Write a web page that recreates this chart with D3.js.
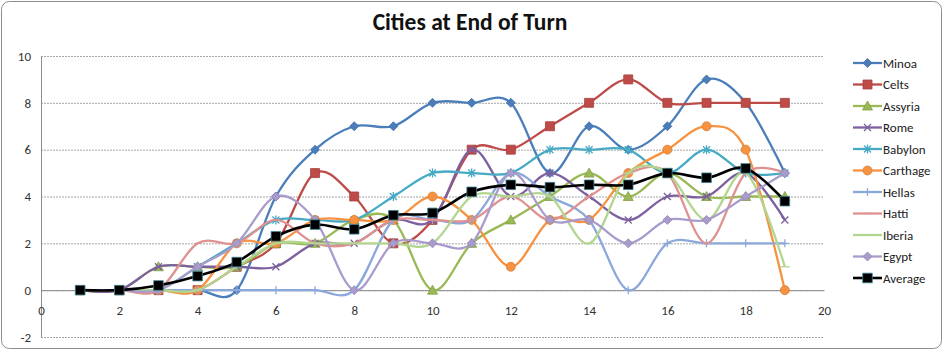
<!DOCTYPE html>
<html>
<head>
<meta charset="utf-8">
<script src="https://cdn.jsdelivr.net/npm/d3@7"></script>
<style>
  body { margin: 0; background: #fff; }
  svg { display: block; }
  .tick text { font-family: Carlito, Calibri, "Liberation Sans", Arial, sans-serif; font-size: 13px; fill: #333; }
  .grid line { stroke: #a6a6a6; stroke-dasharray: 2,1; }
  .legend text { font-family: Carlito, Calibri, "Liberation Sans", Arial, sans-serif; font-size: 13px; fill: #222; }
</style>
</head>
<body>
<script>
// turns on the x axis
var turns = [1, 2, 3, 4, 5, 6, 7, 8, 9, 10, 11, 12, 13, 14, 15, 16, 17, 18, 19];

// cities per civ at end of each turn
var minoa    = [0, 0, 0, 0, 0, 4, 6, 7, 7, 8, 8, 8, 5, 7, 6, 7, 9, 8, 5];
var celts    = [0, 0, 0, 0, 1, 2, 5, 4, 2, 3, 6, 6, 7, 8, 9, 8, 8, 8, 8];
var assyria  = [0, 0, 1, 1, 1, 2, 2, 3, 3, 0, 2, 3, 4, 5, 4, 5, 4, 4, 4];
var rome     = [0, 0, 1, 1, 1, 1, 2, 2, 3, 3, 6, 4, 5, 4, 3, 4, 4, 5, 3];
var babylon  = [0, 0, 0, 1, 2, 3, 3, 3, 4, 5, 5, 5, 6, 6, 6, 5, 6, 5, 5];
var carthage = [0, 0, 0, 0, 2, 2, 3, 3, 3, 4, 3, 1, 3, 3, 5, 6, 7, 6, 0];
var hellas   = [0, 0, 0, 0, 0, 0, 0, 0, 3, 3, 3, 5, 4, 3, 0, 2, 2, 2, 2];
var hatti    = [0, 0, 0, 2, 2, 3, 2, 2, 3, 3, 3, 4, 3, 4, 5, 5, 2, 5, 5];
var iberia   = [0, 0, 0, 0, 1, 2, 2, 2, 2, 2, 4, 4, 4, 2, 5, 5, 3, 5, 1];
var egypt    = [0, 0, 0, 1, 2, 4, 3, 0, 2, 2, 2, 5, 3, 3, 2, 3, 3, 4, 5];
var average  = [0, 0, 0.2, 0.6, 1.2, 2.3, 2.8, 2.6, 3.2, 3.3, 4.2, 4.5, 4.4, 4.5, 4.5, 5.0, 4.8, 5.2, 3.8];

var seriesNames = ["Minoa", "Celts", "Assyria", "Rome", "Babylon", "Carthage", "Hellas", "Hatti", "Iberia", "Egypt", "Average"];
var seriesValues = [minoa, celts, assyria, rome, babylon, carthage, hellas, hatti, iberia, egypt, average];

var xTicks = [0, 2, 4, 6, 8, 10, 12, 14, 16, 18, 20];
var yTicks = [-2, 0, 2, 4, 6, 8, 10];

var title = "Cities at End of Turn";

// look of each series
var colors  = ["#4a7ebb", "#be4b48", "#98b954", "#7d60a0", "#46aac5", "#f69240", "#8ba8dc", "#df9190", "#b2d68f", "#a99ccd", "#000000"];
var markers = ["diamond", "square", "triangle", "x", "star", "circle", "plus", "dash", "longdash", "diamond", "bigsquare"];

var width = 944, height = 352;

var svg = d3.select("body").append("svg")
    .attr("width", width)
    .attr("height", height);

// chart border
svg.append("rect")
    .attr("x", 1.5).attr("y", 1.5)
    .attr("width", width - 4).attr("height", height - 5)
    .attr("rx", 8)
    .attr("fill", "#fff")
    .attr("stroke", "#8c8c8c");

svg.append("text")
    .attr("x", 470)
    .attr("y", 30)
    .attr("text-anchor", "middle")
    .style("font-family", "Carlito, Calibri, Lato, 'Liberation Sans', sans-serif")
    .style("font-weight", "bold")
    .style("font-size", "23.5px")
    .style("fill", "#111")
    .text(title);

var x = d3.scaleLinear().domain([0, 20]).range([41, 824]);
var y = d3.scaleLinear().domain([-2, 10]).range([337, 56]);

// plain hyphen for negatives, like the original
var fmt = function(d){ return String(d); };

// horizontal gridlines
svg.append("g")
    .attr("class", "grid")
    .attr("transform", "translate(" + x(0) + ",0)")
    .call(d3.axisLeft(y).tickValues(yTicks).tickSize(-(x(20) - x(0))).tickFormat(""))
    .call(function(g){ g.select(".domain").remove(); });

// y axis
var yAxis = svg.append("g")
    .attr("transform", "translate(" + x(0) + ",0)")
    .call(d3.axisLeft(y).tickValues(yTicks).tickFormat(fmt).tickSize(0).tickPadding(10));
yAxis.select(".domain").attr("stroke", "#8c8c8c");

// x axis sits on y = 0
var xAxis = svg.append("g")
    .attr("transform", "translate(0," + y(0) + ")")
    .call(d3.axisBottom(x).tickValues(xTicks).tickFormat(fmt).tickSize(0).tickPadding(16));
xAxis.select(".domain").attr("stroke", "#8c8c8c");

var line = d3.line()
    .x(function(d, i){ return x(turns[i]); })
    .y(function(d){ return y(d); })
    .curve(d3.curveCatmullRom.alpha(0));

function markerPath(type){
    switch (type) {
        case "diamond":   return "M0,-4.5L4.5,0L0,4.5L-4.5,0Z";
        case "square":    return "M-4.5,-4.5H4.5V4.5H-4.5Z";
        case "bigsquare": return "M-4.8,-4.8H4.8V4.8H-4.8Z";
        case "triangle":  return "M0,-5L5,4L-5,4Z";
        case "x":         return "M-3.5,-3.5L3.5,3.5M-3.5,3.5L3.5,-3.5";
        case "star":      return "M-3.5,-3.5L3.5,3.5M-3.5,3.5L3.5,-3.5M0,-4.5V4.5";
        case "circle":    return "M4.5,0A4.5,4.5 0 1,1 -4.5,0A4.5,4.5 0 1,1 4.5,0Z";
        case "plus":      return "M0,-4V4M-4,0H4";
        case "dash":      return "M-3,0H3";
        case "longdash":  return "M-5,0H5";
    }
}
var strokeOnly = { x: true, star: true, plus: true, dash: true, longdash: true };

function drawMarker(g, type, color, cx, cy){
    var p = g.append("path")
        .attr("d", markerPath(type))
        .attr("transform", "translate(" + cx + "," + cy + ")");
    if (strokeOnly[type]) {
        p.attr("fill", "none").attr("stroke", color).attr("stroke-width", 1.3);
    } else if (type == "bigsquare") {
        p.attr("fill", "#000").attr("stroke", "#3d8494").attr("stroke-width", 0.8);
    } else {
        p.attr("fill", color).attr("stroke", d3.color(color).darker(0.4)).attr("stroke-width", 0.8);
    }
}

// series, drawn in order so Average ends on top
seriesValues.forEach(function(vals, s){
    var g = svg.append("g").attr("class", "series");
    g.append("path")
        .datum(vals)
        .attr("fill", "none")
        .attr("stroke", colors[s])
        .attr("stroke-width", s == 10 ? 2.6 : 2.3)
        .attr("d", line);
    vals.forEach(function(v, i){
        drawMarker(g, markers[s], colors[s], x(turns[i]), y(v));
    });
});

// legend
var legend = svg.append("g").attr("class", "legend");
seriesNames.forEach(function(name, s){
    var ly = 63 + s * 21.5;
    var item = legend.append("g");
    item.append("line")
        .attr("x1", 853).attr("x2", 882)
        .attr("y1", ly).attr("y2", ly)
        .attr("stroke", colors[s])
        .attr("stroke-width", s == 10 ? 2.6 : 2.3);
    drawMarker(item, markers[s], colors[s], 867.5, ly);
    item.append("text")
        .attr("x", 883)
        .attr("y", ly + 4.5)
        .text(name);
});
</script>
</body>
</html>
